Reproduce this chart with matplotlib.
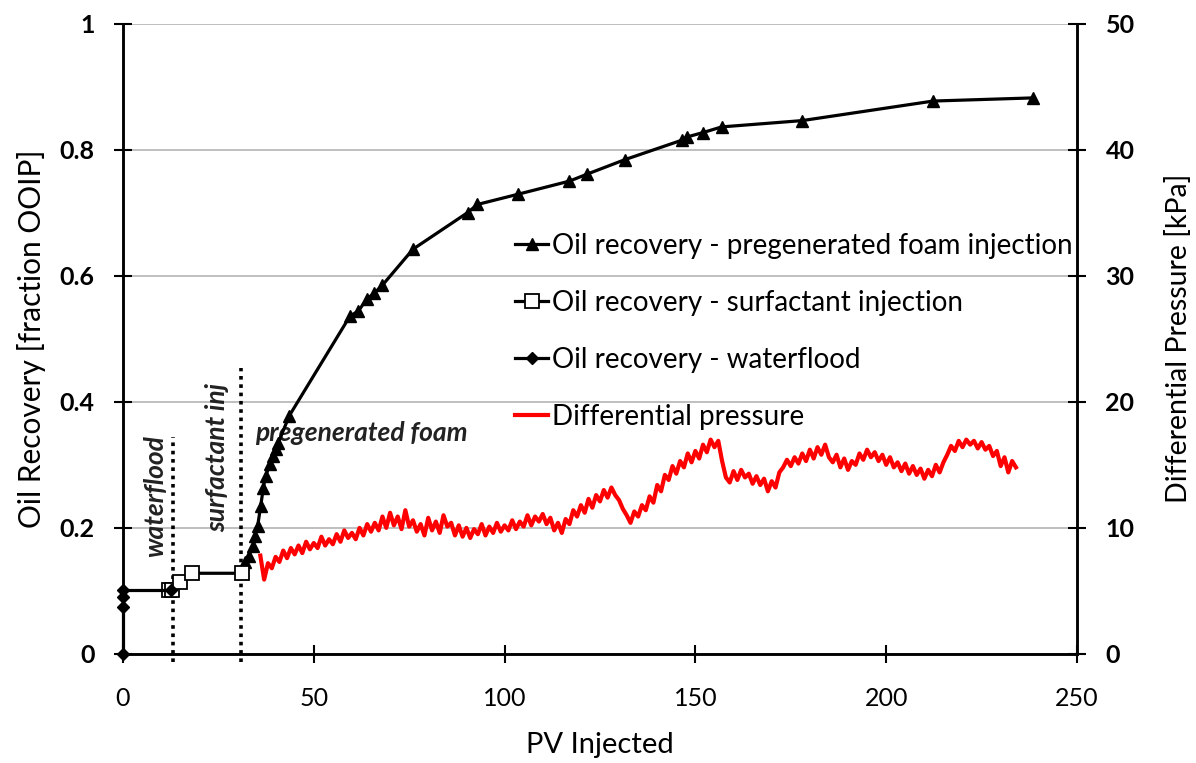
import matplotlib
matplotlib.use('Agg')
import matplotlib.pyplot as plt
import numpy as np

plt.rcParams['font.family'] = ['Lato', 'DejaVu Sans']

# waterflood stage
pv_wf = [0, 0, 0, 0, 12.5]
rec_wf = [0, 0.075, 0.09, 0.102, 0.102]

# surfactant injection stage
pv_surf = [12.0, 12.8, 15.0, 18.0, 31.3]
rec_surf = [0.102, 0.102, 0.114, 0.128, 0.128]

# pregenerated foam stage
pv_foam = [31.3, 32.0, 33.0, 34.2, 34.5, 35.3, 36.1, 36.8, 37.4, 38.6, 39.4, 40.0, 40.7,
           43.6, 59.5, 61.7, 63.9, 65.8, 68.0, 76.0, 90.3, 92.9, 103.4, 117.0, 121.6,
           131.5, 146.5, 147.8, 152.0, 156.9, 178.0, 212.3, 238.5]
rec_foam = [0.128, 0.146, 0.156, 0.172, 0.187, 0.203, 0.235, 0.264, 0.283, 0.301, 0.314, 0.325, 0.335,
            0.378, 0.536, 0.544, 0.563, 0.572, 0.585, 0.642, 0.700, 0.713, 0.729, 0.750, 0.761,
            0.784, 0.815, 0.820, 0.827, 0.836, 0.846, 0.877, 0.882]

# differential pressure [kPa], one reading per PV from 36 to 234
pv_dp = np.arange(36, 235)
dp = [7.8, 5.9, 7.2, 6.8, 7.7, 7.3, 8.2, 7.6, 8.4, 7.9,
      8.6, 8.0, 8.9, 8.3, 8.8, 8.4, 9.3, 8.6, 9.1, 8.7,
      9.5, 8.9, 9.8, 9.2, 9.6, 9.1, 10.0, 9.4, 10.3, 9.7,
      10.4, 9.8, 10.9, 10.0, 11.2, 10.2, 10.9, 9.9, 11.4, 10.1,
      10.6, 9.7, 10.3, 9.4, 10.8, 9.8, 10.5, 9.6, 11.0, 10.1,
      10.4, 9.4, 10.2, 9.3, 10.0, 9.2, 9.9, 9.5, 10.3, 9.4,
      10.1, 9.6, 10.4, 9.7, 10.2, 9.8, 10.6, 9.9, 10.5, 10.1,
      11.0, 10.2, 10.9, 10.5, 11.1, 10.3, 10.8, 9.8, 10.4, 9.6,
      10.7, 10.3, 11.4, 10.9, 11.8, 11.2, 12.3, 11.6, 12.6, 12.1,
      13.0, 12.4, 13.2, 12.6, 12.2, 11.5, 11.0, 10.4, 11.3, 10.9,
      11.8, 11.4, 12.5, 12.0, 13.4, 12.9, 14.2, 13.8, 14.9, 14.3,
      15.3, 14.8, 15.9, 15.2, 16.1, 15.5, 16.6, 16.0, 17.0, 16.4,
      16.9, 15.3, 14.0, 13.6, 14.5, 13.8, 14.6, 14.0, 14.3, 13.5,
      14.1, 13.4, 13.9, 12.9, 13.7, 13.2, 14.4, 14.8, 15.4, 14.9,
      15.6, 15.1, 15.9, 15.3, 16.2, 15.5, 16.4, 15.8, 16.6, 15.6,
      15.2, 15.8, 14.8, 15.5, 14.6, 15.3, 15.0, 15.9, 15.4, 16.2,
      15.6, 16.0, 15.3, 15.8, 15.0, 15.6, 14.8, 15.2, 14.5, 15.1,
      14.3, 14.9, 14.2, 14.7, 13.9, 14.6, 14.1, 15.0, 14.4, 15.2,
      15.8, 16.5, 16.1, 16.9, 16.4, 17.0, 16.6, 16.9, 16.3, 16.8,
      16.2, 16.5, 15.7, 16.1, 14.9, 15.6, 14.4, 15.3, 14.8]

# stage boundaries (PV) and heights of the dotted markers
stage_pv = [13.1, 31.0]
stage_top = [0.344, 0.453]

fig = plt.figure(figsize=(11.96, 7.63), dpi=100)
ax1 = fig.add_axes([0.1028, 0.1429, 0.7977, 0.8263])
ax2 = ax1.twinx()

ax1.yaxis.grid(True, color='#b4b4b4', lw=1.2)
ax1.set_axisbelow(True)

for xs, top in zip(stage_pv, stage_top):
    ax1.plot([xs, xs], [-0.013, top], color='black', ls=(0, (1, 1.3)), lw=2.6,
             zorder=2, clip_on=False)

l_foam, = ax1.plot(pv_foam, rec_foam, '-', color='black', lw=2.3, marker='^', ms=9,
                   label='Oil recovery - pregenerated foam injection', zorder=4)
l_surf, = ax1.plot(pv_surf, rec_surf, '-', color='black', lw=2.3, marker='s', ms=10,
                   mfc='white', mec='black', mew=1.3,
                   label='Oil recovery - surfactant injection', zorder=4)
l_wf, = ax1.plot(pv_wf, rec_wf, '-', color='black', lw=2.3, marker='D', ms=6,
                 label='Oil recovery - waterflood', zorder=5, clip_on=False)
l_dp, = ax2.plot(pv_dp, dp, '-', color='red', lw=3.0, label='Differential pressure')

ax1.set_xlim(0, 250)
ax1.set_ylim(0, 1)
ax2.set_ylim(0, 50)
ax1.set_xticks([0, 50, 100, 150, 200, 250])
ax1.set_yticks([0, 0.2, 0.4, 0.6, 0.8, 1.0])
ax1.set_yticklabels(['0', '0.2', '0.4', '0.6', '0.8', '1'])
ax2.set_yticks([0, 10, 20, 30, 40, 50])

ax1.spines['top'].set_visible(False)
ax2.spines['top'].set_visible(False)
for ax in (ax1, ax2):
    for sp in ax.spines.values():
        sp.set_linewidth(1.8)

ax1.tick_params(axis='y', direction='inout', length=13, width=1.5, pad=14, labelsize=18)
ax1.tick_params(axis='x', direction='inout', length=13, width=1.5, pad=17, labelsize=18)
ax2.tick_params(axis='y', direction='inout', length=13, width=1.5, pad=14, labelsize=18)
for lab in ax1.get_yticklabels() + ax2.get_yticklabels():
    lab.set_fontweight('bold')

ax1.set_xlabel('PV Injected', fontsize=21, labelpad=16)
ax1.set_ylabel('Oil Recovery [fraction OOIP]', fontsize=21.5, labelpad=10)
ax2.set_ylabel('Differential Pressure [kPa]', fontsize=20.5, labelpad=22)

ax1.text(8.5, 0.25, 'waterflood', rotation=90, ha='center', va='center',
         fontsize=19, style='italic', fontweight='bold', color='#222222')
ax1.text(24.8, 0.311, 'surfactant inj', rotation=90, ha='center', va='center',
         fontsize=19, style='italic', fontweight='bold', color='#222222')
ax1.text(34.5, 0.35, 'pregenerated foam', ha='left', va='center',
         fontsize=19, style='italic', fontweight='bold', color='#222222')

leg = ax2.legend(handles=[l_foam, l_surf, l_wf, l_dp], loc='upper left',
                 bbox_to_anchor=(0.411, 0.668), frameon=False, fontsize=20,
                 handlelength=1.2, handletextpad=0.12, labelspacing=1.12,
                 borderpad=0, borderaxespad=0)

fig.savefig('out.png', dpi=100)
